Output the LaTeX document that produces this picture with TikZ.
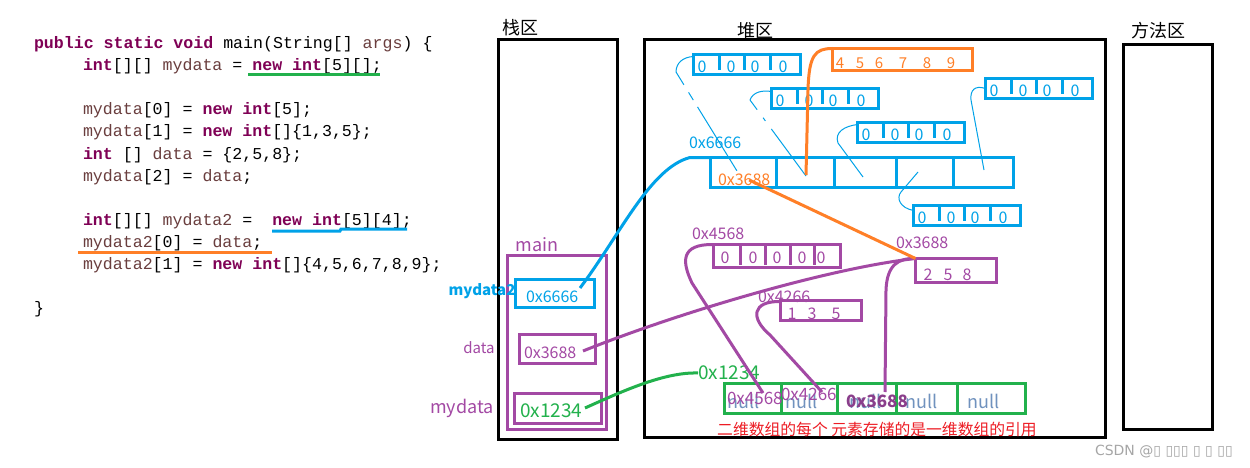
\documentclass[tikz,border=0pt]{standalone}
\usepackage{fontspec}
\setmainfont{Noto Sans CJK SC}
\setmonofont{Liberation Mono}
\newfontfamily\dejavu{DejaVu Sans}
\usetikzlibrary{calc}
\definecolor{kwc}{HTML}{7F0055}
\definecolor{varc}{HTML}{6A3E3E}
\definecolor{pblue}{HTML}{00A2E8}
\definecolor{ppurple}{HTML}{A349A4}
\definecolor{pgreen}{HTML}{22B14C}
\definecolor{porange}{HTML}{FF7F27}
\definecolor{pred}{HTML}{ED1C24}
\definecolor{nullc}{HTML}{7092BE}
\newcommand\ckw[1]{\textcolor{kwc}{\bfseries #1}}
\newcommand\cvar[1]{\textcolor{varc}{#1}}
\newcommand\myfs[1]{\fontsize{#1}{#1}\selectfont}
\newcommand\bluearr[3]{%
  \node[bluebox,minimum width=107pt,minimum height=20pt] (#1) at (#2+1.5,#3+1.5) {};
  \foreach \d in {27,52,78}{\draw[pblue,line width=3pt] (#2+\d,#3+1.5) -- (#2+\d,#3+17);}
  \foreach \z in {10,39,63,91}{\node[font=\myfs{16},text=pblue] at (#2+\z,#3+14) {0};}
}
\begin{document}
\begin{tikzpicture}[x=1pt,y=-1pt]
\tikzset{
  every node/.style={inner sep=0pt,outer sep=0pt},
  code/.style={anchor=base west,font=\ttfamily\myfs{16.6}},
  area/.style={draw=black,line width=3pt,anchor=north west},
  bluebox/.style={draw=pblue,line width=3pt,anchor=north west},
  purplebox/.style={draw=ppurple,line width=3pt,anchor=north west},
  greenbox/.style={draw=pgreen,line width=3pt,anchor=north west},
  orangebox/.style={draw=porange,line width=3pt,anchor=north west},
  thinb/.style={draw=pblue,line width=1pt},
  thickb/.style={draw=pblue,line width=3pt},
  thickp/.style={draw=ppurple,line width=3pt},
  thickg/.style={draw=pgreen,line width=3pt},
  thicko/.style={draw=porange,line width=3pt},
  lab/.style={font=\myfs{16}},
  nulltxt/.style={font=\myfs{18},text=nullc},
}
\useasboundingbox (0,0) rectangle (1250,468);
\fill[white] (0,0) rectangle (1250,468);

% ---------------- code ----------------
\node[code] (c1) at (34,49) {\ckw{public static void} main(String[] \cvar{args}) \{};
\node[code] (c2) at (83,71) {\ckw{int}[][] \cvar{mydata} = \ckw{new int}[5][];};
\node[code] (c3) at (83,115) {\cvar{mydata}[0] = \ckw{new int}[5];};
\node[code] (c4) at (83,137) {\cvar{mydata}[1] = \ckw{new int}[]\{1,3,5\};};
\node[code] (c5) at (83,159) {\ckw{int} [] \cvar{data} = \{2,5,8\};};
\node[code] (c6) at (83,181) {\cvar{mydata}[2] = \cvar{data};};
\node[code] (c7) at (83,225) {\ckw{int}[][] \cvar{mydata2} =~ \ckw{new int}[5][4];};
\node[code] (c8) at (83,247) {\cvar{mydata2}[0] = \cvar{data};};
\node[code] (c9) at (83,269) {\cvar{mydata2}[1] = \ckw{new int}[]\{4,5,6,7,8,9\};};
\node[code] (c10) at (34,313) {\}};
\draw[pgreen,line width=3pt] (248,75) -- (380,75);
\draw[pblue,line width=3pt] (272,231) -- (340,231) -- (341,229) -- (407,229);
\draw[porange,line width=3pt] (78,252) -- (272,252);

% ---------------- areas ----------------
\node[font=\myfs{18}] (lstack) at (520,28) {栈区};
\node[font=\myfs{18}] (lheap) at (755,31) {堆区};
\node[font=\myfs{18}] (lmethod) at (1158,31) {方法区};
\node[area,minimum width=119pt,minimum height=400pt] (stack) at (498.5,39.5) {};
\node[area,minimum width=461pt,minimum height=398pt] (heap) at (644.5,39.5) {};
\node[area,minimum width=89pt,minimum height=385pt] (method) at (1123.5,44.5) {};

% ---------------- stack frame ----------------
\node[font=\myfs{18},text=ppurple] (lmain) at (537,245) {main};
\node[purplebox,minimum width=99pt,minimum height=174pt] (frame) at (507.5,255.5) {};
\node[bluebox,minimum width=79pt,minimum height=28pt] (v2box) at (515.5,279.5) {};
\node[lab,text=pblue,anchor=west] (v2val) at (526,297) {0x6666};
\node[font=\bfseries\myfs{15},text=pblue] (v2lab) at (482,291) {mydata2};
\node[purplebox,minimum width=76pt,minimum height=28.5pt] (vdbox) at (519.5,334.5) {};
\node[lab,text=ppurple,anchor=west] (vdval) at (524,353) {0x3688};
\node[font=\myfs{15},text=ppurple] (vdlab) at (479,348) {data};
\node[purplebox,minimum width=87pt,minimum height=30pt] (v1box) at (514.5,393.5) {};
\node[font=\myfs{19},text=pgreen,anchor=west] (v1val) at (520,411) {0x1234};
\node[font=\myfs{18},text=ppurple] (v1lab) at (462,408) {mydata};
\coordinate (p2ptr) at (580,288);
\coordinate (pdptr) at (583,351);
\coordinate (p1ptr) at (585,408);

% ---------------- heap: mydata2 ----------------
\node[bluebox,minimum width=303pt,minimum height=30pt] (marr) at (710.5,157.5) {};
\foreach \d in {776,834,896,953}{\draw[pblue,line width=3pt] (\d,157.5) -- (\d,187.5);}
\node[lab,text=pblue,anchor=west] (m2addr) at (689,143) {0x6666};
\node[lab,text=porange,anchor=west] (m2c0) at (718,180) {0x3688};
\bluearr{a1}{692}{53}
\bluearr{a2}{770}{87}
\bluearr{a3}{984}{77}
\bluearr{a4}{856}{121}
\bluearr{a5}{912}{204}
\node[orangebox,minimum width=140pt,minimum height=22pt] (oarr) at (832.5,48.5) {};
\foreach \x/\v in {840/4,860/5,879/6,903/7,927/8,951/9}{\node[font=\myfs{15},text=porange] at (\x,63) {\v};}

% ---------------- heap: purple arrays ----------------
\node[purplebox,minimum width=127pt,minimum height=23pt] (p1) at (713.5,244.5) {};
\foreach \d in {740,765,790,814}{\draw[ppurple,line width=3pt] (\d,244.5) -- (\d,265);}
\foreach \x in {725,753,777,802,821}{\node[font=\myfs{16},text=ppurple] at (\x,258) {0};}
\node[lab,text=ppurple,anchor=west] (p1addr) at (692,234) {0x4568};
\node[purplebox,minimum width=81pt,minimum height=24pt] (p2) at (915.5,258.5) {};
\foreach \x/\v in {928/2,948/5,967/8}{\node[font=\myfs{16},text=ppurple] at (\x,275) {\v};}
\node[lab,text=ppurple,anchor=west] (p2addr) at (896,243) {0x3688};
\node[purplebox,minimum width=81pt,minimum height=20pt] (p3) at (780.5,300.5) {};
\foreach \x/\v in {792/1,812/3,836/5}{\node[font=\myfs{16},text=ppurple] at (\x,314) {\v};}
\node[lab,text=ppurple,anchor=west] (p3addr) at (758,297) {0x4266};

% ---------------- heap: mydata ----------------
\node[greenbox,minimum width=301pt,minimum height=30pt] (garr) at (724.5,383.5) {};
\foreach \d in {781,837,896,957}{\draw[pgreen,line width=3pt] (\d,383.5) -- (\d,413.5);}
\node[nulltxt] (n0) at (744,401) {null};
\node[nulltxt] (n1) at (802,401) {null};
\node[nulltxt] (n2) at (866,401) {null};
\node[nulltxt] (n3) at (922,401) {null};
\node[nulltxt] (n4) at (984,401) {null};
\node[font=\myfs{17},text=ppurple,anchor=west] (g0) at (727,398) {0x4568};
\node[font=\myfs{17},text=ppurple,anchor=west] (g1) at (781,394) {0x4266};
\node[font=\bfseries\myfs{17},text=ppurple!85!black,anchor=west] (g2) at (846,401) {0x3688};
\node[font=\myfs{19},text=pgreen,anchor=west] (gaddr) at (698,373) {0x1234};
\node[font=\myfs{15.8},text=pred] (note) at (877,429) {二维数组的每个 元素存储的是一维数组的引用};

% ---------------- thin blue references ----------------
\coordinate (l1a) at (676,72);  \coordinate (l1b) at (737,171);
\coordinate (l2a) at (750,100); \coordinate (l2b) at (806,176);
\coordinate (l3a) at (838,143); \coordinate (l3b) at (863,177);
\coordinate (l4a) at (971,100); \coordinate (l4b) at (984,170);
\coordinate (l5a) at (918,172); \coordinate (l5b) at (901,192);
\draw[thinb] ($(a1.north west)+(0,2)$) .. controls (683,57) and (676,63) .. (l1a);
\draw[thinb,dash pattern=on 15pt off 9pt on 9pt off 8pt on 60pt off 0pt] (l1a) -- (l1b);
\draw[thinb] ($(a2.north west)+(0,3)$) .. controls (762,90) and (753,92) .. (l2a);
\draw[thinb,dash pattern=on 12pt off 10pt on 4pt off 10pt on 60pt off 0pt] (l2a) -- (l2b);
\draw[thinb] ($(a4.north west)+(0,2)$) .. controls (845,126) and (834,132) .. (l3a) -- (l3b);
\draw[thinb] (a3.west) .. controls (975,85) and (970,90) .. (l4a) -- (l4b);
\draw[thinb] (l5a) -- (l5b) .. controls (896,198) and (900,208) .. ($(a5.north west)+(0,5)$);

% ---------------- thick references ----------------
\draw[thickb] (p2ptr) .. controls (620,235) and (650,168) .. (690,157.5) -- (marr.north west);
\draw[thickp] (pdptr) .. controls (680,312) and (830,268) .. (p2.north west);
\draw[thickg] (p1ptr) .. controls (625,390) and (665,372) .. (gaddr.west);
\coordinate (gc0) at (763,393);
\coordinate (gc1) at (822,392);
\coordinate (gc2) at (885,392);
\draw[thickp] (p1.north west) .. controls (680,244) and (682,262) .. (692,283) -- (gc0);
\draw[thickp] ($(p3.north west)+(0,1)$) .. controls (752,301) and (750,318) .. (770,335) -- (gc1);
\draw[thickp] (gc2) -- (886,290) .. controls (887,265) and (898,258) .. (p2.north west);
\draw[thicko] (m2c0.center) ++(5,0) coordinate (oc) (oc) -- (p2.north west);
\coordinate (oc2) at (806,175);
\draw[thicko] (oc2) -- (808,90) .. controls (809,55) and (815,48.5) .. (oarr.north west);

% ---------------- watermark ----------------
\node[font=\dejavu\myfs{14},text=gray!70,anchor=west] (wm) at (1095,452) {CSDN @▯ ▯▯▯ ▯ ▯ ▯▯};
\end{tikzpicture}
\end{document}
